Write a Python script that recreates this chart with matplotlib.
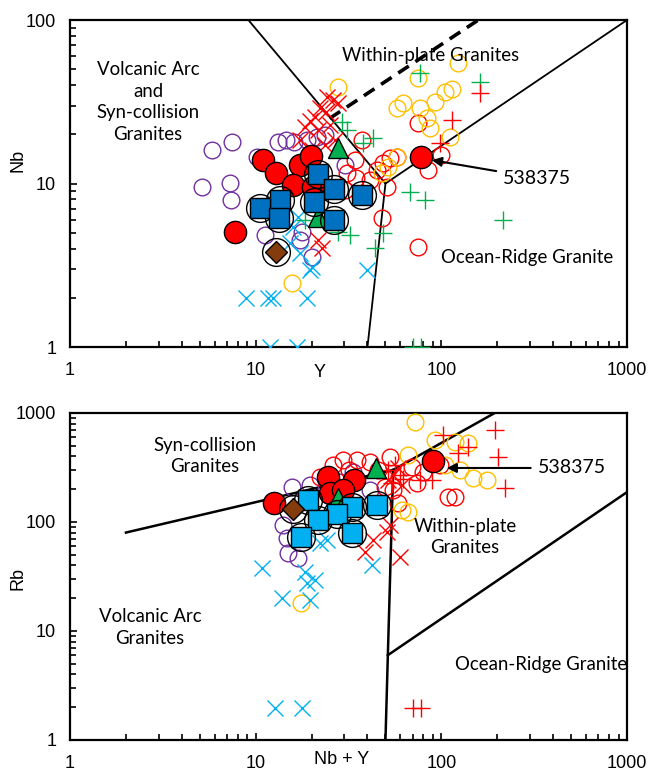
import matplotlib
matplotlib.use('Agg')
import matplotlib.pyplot as plt
from matplotlib.ticker import FixedLocator, LogLocator, NullFormatter

# colours used in the original spreadsheet chart
RED = '#FF0000'
YEL = '#FFC000'
PUR = '#7030A0'
GRN = '#00B050'
LBLUE = '#00B0F0'
DBLUE = '#0070C0'
BROWN = '#843C0C'

# ---------------- top panel: Nb vs Y ----------------
t_purple_y = [5.82, 7.45, 5.14, 7.27, 7.37, 10.2, 13.2, 14.6, 16.1, 18.9, 21.4, 23.6, 11.2, 17.8, 20.1, 30.3, 17.3]
t_purple_nb = [16.0, 17.9, 9.5, 10.1, 7.9, 14.5, 17.9, 18.5, 17.9, 18.5, 19.2, 19.8, 4.84, 5.05, 3.55, 13.0, 4.51]

t_redo_y = [74.8, 84.7, 100, 47.9, 74.8, 37.4, 45.0, 48.5, 52.9, 57.7, 41.3, 31.0, 50.9, 34.3, 30.3, 34.5]
t_redo_nb = [23.4, 12.1, 14.9, 6.15, 4.09, 18.5, 12.1, 13.3, 14.3, 14.5, 10.5, 11.6, 9.5, 13.9, 9.1, 10.8]

t_yel_y = [27.7, 123, 74.8, 62.1, 76.7, 92.4, 104.5, 114, 83.6, 86.8, 111, 57.7, 51.6, 47.9, 57.7, 15.7]
t_yel_nb = [38.9, 54.6, 44.2, 31.1, 29.0, 31.5, 36.3, 37.8, 25.2, 21.9, 19.2, 14.5, 12.6, 11.6, 29.0, 2.46]

t_redx_y = [24.2, 26.1, 27.7, 22.2, 23.9, 20.9, 19.6, 18.4, 21.6, 25.1, 17.3, 20.1, 23.6, 26.7, 22.7, 21.6]
t_redx_nb = [33.8, 32.4, 31.1, 29.0, 27.4, 25.5, 24.1, 22.2, 21.2, 22.8, 18.5, 16.0, 17.2, 18.5, 4.03, 4.51]

t_bluex_y = [8.87, 11.6, 12.4, 18.9, 11.9, 16.6, 39.7, 15.3, 17.3, 19.6, 16.9, 15.9, 20.1]
t_bluex_nb = [2.0, 2.0, 2.0, 2.0, 1.0, 1.0, 2.96, 4.33, 3.76, 2.96, 6.24, 5.42, 3.09]

t_grnp_y = [76.7, 161, 29.1, 31.0, 42.8, 37.8, 67.7, 81.6, 215, 48.5, 43.9, 18.4, 27.7, 32.2, 70.3, 77.6]
t_grnp_nb = [47.4, 41.8, 23.8, 21.2, 19.0, 17.7, 8.87, 7.92, 5.98, 4.98, 4.03, 5.98, 5.05, 4.84, 1.0, 1.0]

t_redp_y = [161, 114, 98.3]
t_redp_nb = [35.8, 24.5, 17.7]

t_redf_y = [10.9, 12.9, 17.3, 19.9, 15.9, 7.7, 20.4]
t_redf_nb = [13.9, 11.6, 13.0, 14.7, 9.8, 5.05, 9.5]

t_sq_y = [21.6, 26.4, 37.4, 20.6, 13.5, 10.5, 13.3, 26.4]
t_sq_nb = [11.4, 9.25, 8.5, 7.7, 7.9, 7.08, 6.15, 5.98]

t_tri_y = [27.7, 21.6]
t_tri_nb = [16.5, 6.24]

t_dia_y = [12.9]
t_dia_nb = [3.81]

t_sample_y, t_sample_nb = 77.6, 14.5

# field boundaries (Pearce et al. 1984)
t_b1_y, t_b1_nb = [1, 50], [2000, 10]
t_b2_y, t_b2_nb = [50, 1000], [10, 100]
t_b3_y, t_b3_nb = [50, 40], [10, 1]
t_b4_y, t_b4_nb = [25, 1000], [25, 400]

# ---------------- bottom panel: Rb vs Nb+Y ----------------
b_purple_x = [15.7, 14.0, 14.7, 14.9, 16.9, 19.6, 33.4, 28.4, 41.3]
b_purple_rb = [209, 93.8, 71.3, 52.0, 46.7, 218, 288, 233, 197]

b_redo_x = [29.5, 35.1, 41.3, 52.9, 69.5, 79.6, 73.6, 108, 98.3, 54.8, 58.4, 45.6, 22.2, 49.7, 118, 26.0, 32.0]
b_redo_rb = [371, 371, 355, 395, 318, 288, 228, 170, 333, 197, 149, 300, 259, 209, 170, 330, 300]

b_yel_x = [72.1, 92.4, 118, 139, 66.1, 104.5, 126, 148, 176, 61.4, 66.1, 17.6]
b_yel_rb = [827, 565, 542, 533, 412, 333, 300, 253, 243, 129, 124, 18.1]

b_redx_x = [50.9, 59.8, 38.8, 42.8, 52.9, 54.8, 58.4, 51.6, 61.4]
b_redx_rb = [81, 47.7, 53.1, 68.4, 93.8, 270, 313, 243, 218]

b_bluex_x = [10.8, 13.9, 19.6, 18.9, 20.9, 18.4, 22.2, 24.2, 42.3, 12.7, 17.8]
b_bluex_rb = [37.8, 20.1, 19.3, 27.6, 29.4, 34.8, 64.2, 68.4, 40.3, 1.97, 1.97]

b_redp_x = [194, 102, 139, 123, 202, 220, 76.7, 89, 56.2, 59.8, 51.6, 70.3, 77.6, 54.0, 62.0]
b_redp_rb = [698, 629, 488, 430, 395, 205, 243, 243, 333, 270, 300, 1.97, 1.97, 230, 250]

b_redf_x = [12.6, 24.5, 25.1, 33.8, 29.5]
b_redf_rb = [149, 259, 185, 243, 197]

b_sq_x = [19.1, 45.0, 33.0, 27.4, 21.6, 17.5, 33.0]
b_sq_rb = [159, 143, 137, 118, 104, 72.8, 79.3]

b_tri_x = [44.5, 27.7]
b_tri_rb = [313, 166]

b_dia_x = [15.9]
b_dia_rb = [132]

b_sample_x, b_sample_rb = 90.1, 363

b_b1_x, b_b1_rb = [2, 55], [80, 300]
b_b2_x, b_b2_rb = [55, 400], [300, 2000]
b_b3_x, b_b3_rb = [55, 51.5, 50], [300, 6, 1]
b_b4_x, b_b4_rb = [51.5, 1000], [6, 188]

REGION_FONT = 'Lato'
TICK_FONT = 'Liberation Sans'
RFS = 13.4
LSP = 1.33


def pts(ax, x, y, **kw):
    ax.plot(x, y, linestyle='none', **kw)


def draw_points(ax, d):
    pts(ax, d['purple'][0], d['purple'][1], marker='o', mfc='none', mec=PUR, ms=12, mew=1, zorder=3)
    pts(ax, d['redo'][0], d['redo'][1], marker='o', mfc='none', mec=RED, ms=12, mew=1, zorder=3)
    pts(ax, d['yel'][0], d['yel'][1], marker='o', mfc='none', mec=YEL, ms=12, mew=1, zorder=3)
    pts(ax, d['redx'][0], d['redx'][1], marker='x', color=RED, ms=11, mew=1, zorder=3)
    pts(ax, d['bluex'][0], d['bluex'][1], marker='x', color=LBLUE, ms=11, mew=1, zorder=3)
    if 'grnp' in d:
        pts(ax, d['grnp'][0], d['grnp'][1], marker='+', color=GRN, ms=13, mew=1, zorder=3)
    pts(ax, d['redp'][0], d['redp'][1], marker='+', color=RED, ms=13, mew=1, zorder=3)
    pts(ax, d['redf'][0], d['redf'][1], marker='o', mfc=RED, mec='black', ms=16, mew=1, zorder=4)
    pts(ax, d['tri'][0], d['tri'][1], marker='^', mfc=GRN, mec='black', ms=15, mew=1, zorder=4)
    # black rings around the samples of this study
    pts(ax, d['sq'][0] + d['dia'][0], d['sq'][1] + d['dia'][1], marker='o', mfc='none',
        mec='black', ms=20, mew=1, zorder=5)
    pts(ax, d['sq'][0], d['sq'][1], marker='s', mfc=d['sqcol'], mec='black', ms=14, mew=1, zorder=6)
    pts(ax, d['dia'][0], d['dia'][1], marker='D', mfc=BROWN, mec='black', ms=11, mew=1, zorder=6)


def style_axis(ax, xlim, ylim, yticks):
    ax.set_xscale('log')
    ax.set_yscale('log')
    ax.set_xlim(*xlim)
    ax.set_ylim(*ylim)
    ax.xaxis.set_major_locator(FixedLocator([1, 10, 100, 1000]))
    ax.yaxis.set_major_locator(FixedLocator(yticks))
    ax.set_xticklabels(['1', '10', '100', '1000'], fontfamily=TICK_FONT, fontsize=13)
    ax.set_yticklabels([str(v) for v in yticks], fontfamily=TICK_FONT, fontsize=13)
    ax.xaxis.set_minor_locator(LogLocator(base=10, subs=range(2, 10)))
    ax.yaxis.set_minor_locator(LogLocator(base=10, subs=range(2, 10)))
    ax.xaxis.set_minor_formatter(NullFormatter())
    ax.yaxis.set_minor_formatter(NullFormatter())
    ax.tick_params(which='both', direction='in', width=1.2, colors='black')
    ax.tick_params(which='major', length=5)
    ax.tick_params(which='minor', length=4)
    ax.tick_params(axis='x', which='major', pad=11)
    ax.tick_params(axis='y', which='major', pad=10)
    for s in ax.spines.values():
        s.set_linewidth(1.6)


fig = plt.figure(figsize=(6.52, 7.76), dpi=100)
ax1 = fig.add_axes([0.1074, 0.5528, 0.8543, 0.4214])
ax2 = fig.add_axes([0.1074, 0.0464, 0.8543, 0.4214])

# ---- top ----
ax1.plot(t_b1_y, t_b1_nb, color='black', lw=1.3, zorder=2)
ax1.plot(t_b2_y, t_b2_nb, color='black', lw=1.3, zorder=2)
ax1.plot(t_b3_y, t_b3_nb, color='black', lw=1.3, zorder=2)
ax1.plot(t_b4_y, t_b4_nb, color='black', lw=2.6, dashes=(3.5, 2.2), zorder=2)

draw_points(ax1, {
    'purple': (t_purple_y, t_purple_nb), 'redo': (t_redo_y, t_redo_nb),
    'yel': (t_yel_y, t_yel_nb), 'redx': (t_redx_y, t_redx_nb),
    'bluex': (t_bluex_y, t_bluex_nb), 'grnp': (t_grnp_y, t_grnp_nb),
    'redp': (t_redp_y, t_redp_nb), 'redf': (t_redf_y, t_redf_nb),
    'tri': (t_tri_y, t_tri_nb), 'sq': (t_sq_y, t_sq_nb), 'dia': (t_dia_y, t_dia_nb),
    'sqcol': DBLUE})
pts(ax1, [t_sample_y], [t_sample_nb], marker='o', mfc=RED, mec='black', ms=16, mew=1, zorder=4)

style_axis(ax1, (1, 1000), (1, 100), [1, 10, 100])
ax1.text(0.449, -0.078, 'Y', transform=ax1.transAxes, ha='center', va='center',
         fontfamily=TICK_FONT, fontsize=13)
ax1.text(-0.093, 0.572, 'Nb', transform=ax1.transAxes, ha='center', va='center',
         rotation=90, fontfamily=TICK_FONT, fontsize=13)

ax1.text(2.63, 31.5, 'Volcanic Arc\nand\nSyn-collision\nGranites', ha='center', va='center',
         fontfamily=REGION_FONT, fontsize=RFS, linespacing=LSP)
ax1.text(88, 61, 'Within-plate Granites', ha='center', va='center',
         fontfamily=REGION_FONT, fontsize=RFS)
ax1.text(289, 3.55, 'Ocean-Ridge Granite', ha='center', va='center',
         fontfamily=REGION_FONT, fontsize=RFS)
ax1.annotate('538375', xy=(89, 13.9), xytext=(215, 10.8),
             ha='left', va='center', fontfamily=REGION_FONT, fontsize=14,
             arrowprops=dict(arrowstyle='-|>', color='black', lw=1.5, mutation_scale=14,
                             shrinkA=3, shrinkB=0))

# ---- bottom ----
ax2.plot(b_b1_x, b_b1_rb, color='black', lw=1.8, zorder=2)
ax2.plot(b_b2_x, b_b2_rb, color='black', lw=1.8, zorder=2)
ax2.plot(b_b3_x, b_b3_rb, color='black', lw=1.8, zorder=2)
ax2.plot(b_b4_x, b_b4_rb, color='black', lw=1.8, zorder=2)

draw_points(ax2, {
    'purple': (b_purple_x, b_purple_rb), 'redo': (b_redo_x, b_redo_rb),
    'yel': (b_yel_x, b_yel_rb), 'redx': (b_redx_x, b_redx_rb),
    'bluex': (b_bluex_x, b_bluex_rb), 'redp': (b_redp_x, b_redp_rb),
    'redf': (b_redf_x, b_redf_rb), 'tri': (b_tri_x, b_tri_rb),
    'sq': (b_sq_x, b_sq_rb), 'dia': (b_dia_x, b_dia_rb), 'sqcol': LBLUE})
pts(ax2, [b_sample_x], [b_sample_rb], marker='o', mfc=RED, mec='black', ms=16, mew=1, zorder=4)

style_axis(ax2, (1, 1000), (1, 1000), [1, 10, 100, 1000])
ax2.text(0.488, -0.061, 'Nb + Y', transform=ax2.transAxes, ha='center', va='center',
         fontfamily=TICK_FONT, fontsize=13)
ax2.text(-0.093, 0.495, 'Rb', transform=ax2.transAxes, ha='center', va='center',
         rotation=90, fontfamily=TICK_FONT, fontsize=13)

ax2.text(5.33, 403, 'Syn-collision\nGranites', ha='center', va='center',
         fontfamily=REGION_FONT, fontsize=RFS, linespacing=LSP)
ax2.text(134, 72.8, 'Within-plate\nGranites', ha='center', va='center',
         fontfamily=REGION_FONT, fontsize=RFS, linespacing=LSP)
ax2.text(2.7, 10.7, 'Volcanic Arc\nGranites', ha='center', va='center',
         fontfamily=REGION_FONT, fontsize=RFS, linespacing=LSP)
ax2.text(344, 4.88, 'Ocean-Ridge Granite', ha='center', va='center',
         fontfamily=REGION_FONT, fontsize=RFS)
ax2.annotate('538375', xy=(107, 313), xytext=(330, 313),
             ha='left', va='center', fontfamily=REGION_FONT, fontsize=14,
             arrowprops=dict(arrowstyle='-|>', color='black', lw=1.5, mutation_scale=14,
                             shrinkA=3, shrinkB=0))

fig.savefig('out.png', dpi=100)
